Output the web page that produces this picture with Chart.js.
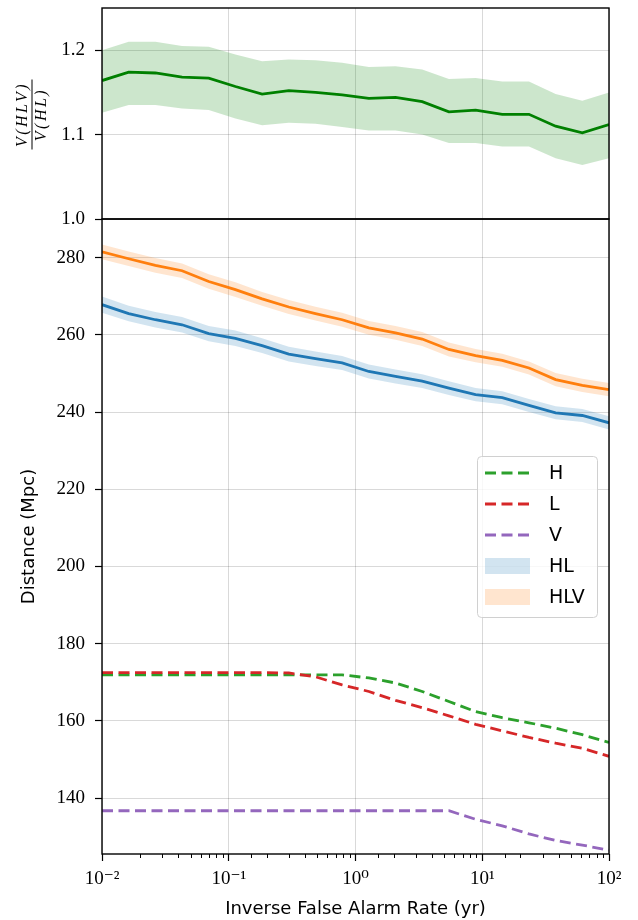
<!DOCTYPE html>
<html>
<head>
<title>Detection distance vs inverse FAR</title>
<script src="https://cdn.jsdelivr.net/npm/chart.js"></script>
<style>
  body { margin: 0; background: #fff; }
</style>
</head>
<body>
<canvas id="distChart" width="638" height="920"></canvas>
<script>
// inverse false alarm rate (yr), 20 log-spaced points
var far = [0.01, 0.016238, 0.026367, 0.042813, 0.069519, 0.11288, 0.18330, 0.29764, 0.48329, 0.78476,
           1.2743, 2.0691, 3.3598, 5.4556, 8.8587, 14.384, 23.357, 37.927, 61.585, 100];

// top panel: V(HLV)/V(HL)
var ratio   = [1.164, 1.174, 1.173, 1.168, 1.167, 1.157, 1.148, 1.152, 1.150, 1.147,
               1.143, 1.144, 1.139, 1.127, 1.129, 1.124, 1.124, 1.110, 1.102, 1.112];
var ratioHi = [1.200, 1.210, 1.210, 1.205, 1.204, 1.195, 1.187, 1.189, 1.188, 1.185,
               1.180, 1.181, 1.177, 1.166, 1.167, 1.163, 1.163, 1.148, 1.140, 1.150];
var ratioLo = [1.126, 1.135, 1.135, 1.131, 1.129, 1.119, 1.111, 1.114, 1.113, 1.109,
               1.105, 1.105, 1.100, 1.090, 1.090, 1.086, 1.086, 1.072, 1.064, 1.072];

// bottom panel: distances (Mpc)
var hl    = [267.8, 265.5, 263.9, 262.6, 260.3, 259.1, 257.2, 255.0, 253.8, 252.7,
             250.5, 249.2, 248.0, 246.2, 244.5, 243.7, 241.7, 239.8, 239.1, 237.2];
var hlHi  = [269.9, 267.5, 265.9, 264.6, 262.3, 261.1, 259.1, 256.9, 255.7, 254.5,
             252.3, 251.0, 249.8, 248.0, 246.2, 245.4, 243.4, 241.5, 240.8, 238.9];
var hlLo  = [265.7, 263.5, 261.9, 260.6, 258.3, 257.1, 255.3, 253.1, 251.9, 250.9,
             248.7, 247.4, 246.2, 244.4, 242.8, 242.0, 240.0, 238.1, 237.4, 235.5];
var hlv   = [281.5, 279.7, 278.0, 276.6, 273.8, 271.7, 269.3, 267.2, 265.5, 263.9,
             261.8, 260.5, 258.9, 256.2, 254.6, 253.4, 251.4, 248.4, 246.9, 245.8];
var hlvHi = [283.4, 281.6, 279.9, 278.5, 275.7, 273.6, 271.1, 269.0, 267.3, 265.7,
             263.6, 262.3, 260.7, 258.0, 256.3, 255.1, 253.1, 250.1, 248.6, 247.5];
var hlvLo = [279.6, 277.8, 276.1, 274.7, 271.9, 269.8, 267.5, 265.4, 263.7, 262.1,
             260.0, 258.7, 257.1, 254.4, 252.9, 251.7, 249.7, 246.7, 245.2, 244.1];
var distH = [171.9, 171.9, 171.9, 171.9, 171.9, 171.9, 171.9, 171.9, 171.9, 171.9,
             171.1, 169.8, 167.6, 165.0, 162.4, 160.8, 159.5, 158.1, 156.4, 154.4];
var distL = [172.5, 172.5, 172.5, 172.5, 172.5, 172.5, 172.5, 172.4, 171.4, 169.3,
             167.6, 165.3, 163.4, 161.3, 159.1, 157.4, 155.7, 154.2, 152.9, 150.8];
var distV = [136.7, 136.7, 136.7, 136.7, 136.7, 136.7, 136.7, 136.7, 136.7, 136.7,
             136.7, 136.7, 136.7, 136.7, 134.5, 132.8, 130.7, 129.0, 127.8, 126.5];

var legendLabels = ['H', 'L', 'V', 'HL', 'HLV'];

var serif = '"Liberation Serif", "DejaVu Serif", serif';
var sans = '"DejaVu Sans", sans-serif';
var gridCol = 'rgba(0,0,0,0.15)';
var sup = {'-': '\u207B', '0': '\u2070', '1': '\u00B9', '2': '\u00B2'};

function pts(ys) { return far.map(function(x, i) { return {x: x, y: ys[i]}; }); }
function isDecade(v) { var l = Math.log10(v); return Math.abs(l - Math.round(l)) < 1e-6; }
function noPad(s) { s.paddingTop = 0; s.paddingBottom = 0; s.paddingLeft = 0; s.paddingRight = 0; }

function band(ys, axis, fill, color) {
    return { data: pts(ys), yAxisID: axis, borderWidth: 0, pointRadius: 0,
             backgroundColor: color, fill: fill, order: 10 };
}
function line(ys, axis, color, dashed, ord) {
    return { data: pts(ys), yAxisID: axis, borderColor: color, borderWidth: 2.8,
             borderDash: dashed ? [11, 5.5] : [], pointRadius: 0, fill: false, order: ord };
}

var datasets = [
    band(ratioLo, 'yTop', false, 'rgba(0,128,0,0.2)'),
    band(ratioHi, 'yTop', '-1', 'rgba(0,128,0,0.2)'),
    band(hlLo, 'yBot', false, 'rgba(31,119,180,0.2)'),
    band(hlHi, 'yBot', '-1', 'rgba(31,119,180,0.2)'),
    band(hlvLo, 'yBot', false, 'rgba(255,127,14,0.2)'),
    band(hlvHi, 'yBot', '-1', 'rgba(255,127,14,0.2)'),
    line(ratio, 'yTop', '#008000', false, 5),
    line(hl, 'yBot', '#1f77b4', false, 5),
    line(hlv, 'yBot', '#ff7f0e', false, 5),
    line(distH, 'yBot', '#2ca02c', true, 2),
    line(distL, 'yBot', '#d62728', true, 1),
    line(distV, 'yBot', '#9467bd', true, 0)
];

var legendStyles = [
    {type: 'dash', color: '#2ca02c'},
    {type: 'dash', color: '#d62728'},
    {type: 'dash', color: '#9467bd'},
    {type: 'patch', color: 'rgba(31,119,180,0.2)'},
    {type: 'patch', color: 'rgba(255,127,14,0.2)'}
];

var extras = {
    id: 'extras',
    afterDraw: function(chart) {
        var c = chart.ctx, a = chart.chartArea, xs = chart.scales.x;
        c.save();
        // minor x ticks
        c.strokeStyle = '#000';
        c.lineWidth = 1;
        xs.ticks.forEach(function(t) {
            if (isDecade(t.value)) return;
            var px = Math.round(xs.getPixelForValue(t.value)) + 0.5;
            c.beginPath(); c.moveTo(px, a.bottom); c.lineTo(px, a.bottom + 4); c.stroke();
        });
        // panel frames
        c.lineWidth = 1.4;
        ['yTop', 'yBot'].forEach(function(id) {
            var s = chart.scales[id];
            c.strokeRect(a.left, s.top, a.right - a.left, s.bottom - s.top);
        });
        // fraction label of the top panel
        var st = chart.scales.yTop;
        c.save();
        c.translate(32, (st.top + st.bottom) / 2 + 1);
        c.rotate(-Math.PI / 2);
        c.fillStyle = '#000';
        c.font = 'italic 16px ' + serif;
        c.letterSpacing = '2.5px';
        c.textAlign = 'center';
        c.textBaseline = 'middle';
        c.fillText('V(HLV)', 0, -9.5);
        c.fillText('V(HL)', 0, 9.5);
        c.lineWidth = 1;
        c.beginPath(); c.moveTo(-35, 0); c.lineTo(35, 0); c.stroke();
        c.restore();
        // legend
        var sb = chart.scales.yBot;
        var bw = 120, bh = 161;
        var bx = a.right - 12 - bw, by = (sb.top + sb.bottom) / 2 - bh / 2;
        c.fillStyle = 'rgba(255,255,255,0.8)';
        c.strokeStyle = '#d0d0d0';
        c.lineWidth = 1;
        c.beginPath();
        c.roundRect(bx + 0.5, by + 0.5, bw, bh, 4);
        c.fill(); c.stroke();
        c.font = '19px ' + sans;
        c.textBaseline = 'middle';
        c.textAlign = 'left';
        legendLabels.forEach(function(lbl, i) {
            var yy = by + 17 + i * 31, st2 = legendStyles[i];
            if (st2.type === 'dash') {
                c.strokeStyle = st2.color;
                c.lineWidth = 2.8;
                c.setLineDash([11, 5.5]);
                c.beginPath(); c.moveTo(bx + 8, yy); c.lineTo(bx + 53, yy); c.stroke();
                c.setLineDash([]);
            } else {
                c.fillStyle = st2.color;
                c.fillRect(bx + 8, yy - 8, 45, 16);
            }
            c.fillStyle = '#000';
            c.fillText(lbl, bx + 72, yy + 1);
        });
        c.restore();
    }
};

new Chart(document.getElementById('distChart'), {
    type: 'line',
    data: { datasets: datasets },
    plugins: [extras],
    options: {
        responsive: false,
        animation: false,
        layout: { padding: { top: 8, right: 29, left: 0, bottom: 0 } },
        plugins: { legend: { display: false }, tooltip: { enabled: false } },
        elements: { line: { tension: 0 } },
        scales: {
            x: {
                type: 'logarithmic',
                min: 0.01,
                max: 100,
                position: 'bottom',
                border: { display: false },
                grid: {
                    color: function(ctx) { return ctx.tick && isDecade(ctx.tick.value) ? gridCol : 'transparent'; },
                    tickColor: function(ctx) { return ctx.tick && isDecade(ctx.tick.value) ? '#000' : 'transparent'; },
                    tickLength: 7,
                    tickWidth: 1.2
                },
                ticks: {
                    autoSkip: false,
                    maxRotation: 0,
                    padding: 7,
                    color: '#000',
                    font: { family: serif, size: 19 },
                    callback: function(v) {
                        if (!isDecade(v)) return '';
                        var e = String(Math.round(Math.log10(v)));
                        return '10' + e.split('').map(function(ch) { return sup[ch]; }).join('');
                    }
                },
                title: {
                    display: true,
                    text: 'Inverse False Alarm Rate (yr)',
                    color: '#000',
                    font: { family: sans, size: 18 },
                    padding: { top: 0, bottom: 0 }
                },
                afterFit: function(s) { s.height = 66; noPad(s); }
            },
            yTop: {
                type: 'linear',
                position: 'left',
                stack: 'panels',
                stackWeight: 211,
                weight: 1,
                min: 1.0,
                max: 1.25,
                border: { display: false },
                grid: { color: gridCol, tickColor: '#000', tickLength: 7, tickWidth: 1.2 },
                ticks: {
                    stepSize: 0.1,
                    includeBounds: false,
                    padding: 10,
                    color: '#000',
                    font: { family: serif, size: 19 },
                    callback: function(v) { return v.toFixed(1); }
                },
                afterFit: function(s) { s.width = 102; noPad(s); }
            },
            yBot: {
                type: 'linear',
                position: 'left',
                stack: 'panels',
                stackWeight: 635,
                weight: 0,
                min: 125.5,
                max: 290,
                border: { display: false },
                grid: { color: gridCol, tickColor: '#000', tickLength: 7, tickWidth: 1.2 },
                ticks: {
                    stepSize: 20,
                    includeBounds: false,
                    padding: 10,
                    color: '#000',
                    font: { family: serif, size: 19 }
                },
                title: {
                    display: true,
                    text: 'Distance (Mpc)',
                    color: '#000',
                    font: { family: sans, size: 18 },
                    padding: { top: 19, bottom: 0 }
                },
                afterFit: function(s) { s.width = 102; noPad(s); }
            }
        }
    }
});
</script>
</body>
</html>
